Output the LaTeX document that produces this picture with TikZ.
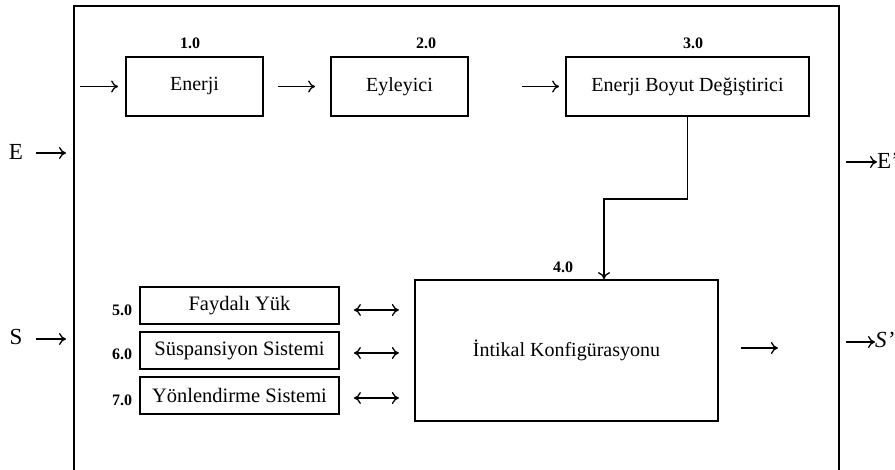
\documentclass[tikz,border=0pt]{standalone}
\usepackage{fontspec}
\setmainfont{Liberation Serif}
\usetikzlibrary{arrows.meta}
\begin{document}
\begin{tikzpicture}[x=1pt,y=-1pt,
  box/.style={draw,line width=1.8pt,inner sep=0pt,font=\fontsize{20}{23}\selectfont},
  sbox/.style={draw,line width=1.8pt,inner sep=0pt,minimum width=199pt,minimum height=37pt,font=\fontsize{20.5}{23}\selectfont},
  num/.style={inner sep=0pt,font=\fontsize{16}{18}\selectfont\bfseries},
  lab/.style={inner sep=0pt,font=\fontsize{23}{26}\selectfont},
  arr/.style={line width=1.3pt,-{To[length=7pt,width=12pt]}},
  darr/.style={line width=1.3pt,{To[length=7pt,width=12pt]}-{To[length=7pt,width=12pt]}}]
\useasboundingbox (0,0) rectangle (895,470);
\fill[white] (0,0) rectangle (895,470);
% outer frame
\node[draw,line width=2pt,inner sep=0pt,minimum width=765pt,minimum height=500pt,anchor=north west] (frame) at (73,5) {};
% top boxes
\node[box,minimum width=137pt,minimum height=59pt] (b1) at (194.5,86.5) {Enerji};
\node[box,minimum width=137pt,minimum height=59pt] (b2) at (399.5,86.5) {Eyleyici};
\node[box,minimum width=243pt,minimum height=59pt] (b3) at (687.5,86.5) {Enerji Boyut Değiştirici};
\node[num] (n1) at (190,43) {1.0};
\node[num] (n2) at (426,43) {2.0};
\node[num] (n3) at (693,43) {3.0};
% main box
\node[box,minimum width=303pt,minimum height=141pt] (b4) at (566.5,350.5) {İntikal Konfigürasyonu};
\node[num] (n4) at (563,267) {4.0};
% small boxes
\node[sbox] (b5) at (239.5,305.5) {Faydalı Yük};
\node[sbox] (b6) at (239.5,350.5) {Süspansiyon Sistemi};
\node[sbox] (b7) at (239.5,395.5) {Yönlendirme Sistemi};
\node[num] (n5) at (122,310) {5.0};
\node[num] (n6) at (122,354) {6.0};
\node[num] (n7) at (122,400) {7.0};
% arrows top row
\draw[arr] ([xshift=-45pt]b1.west) -- ([xshift=-7pt]b1.west);
\draw[arr] ([xshift=14pt]b1.east) -- ([xshift=-15pt]b2.west);
\draw[arr] ([xshift=53pt]b2.east) -- ([xshift=-6pt]b3.west);
% connector 3 -> 4
\coordinate (k) at (604,199);
\draw[arr] (b3.south) |- (k) -- (k |- b4.north);
% output of 4
\draw[arr] ([xshift=22pt,yshift=2.5pt]b4.east) -- ([xshift=59pt,yshift=2.5pt]b4.east);
% double arrows
\draw[darr] ([xshift=14pt,yshift=-4.5pt]b5.east) -- ([xshift=59pt,yshift=-4.5pt]b5.east);
\draw[darr] ([xshift=14pt,yshift=-2.5pt]b6.east) -- ([xshift=59pt,yshift=-2.5pt]b6.east);
\draw[darr] ([xshift=14pt,yshift=-2.5pt]b7.east) -- ([xshift=59pt,yshift=-2.5pt]b7.east);
% external inputs
\node[lab] (E) at (16,152) {E};
\node[lab] (S) at (16,337) {S};
\coordinate (ei) at (36,153);
\coordinate (si) at (36,339);
\draw[arr] (ei) -- ([xshift=-7pt]frame.west |- ei);
\draw[arr] (si) -- ([xshift=-7pt]frame.west |- si);
% external outputs
\node[lab,anchor=west] (E2) at (877,161) {E'};
\node[lab,anchor=west] (S2) at (875,340) {\textit{S'}};
\coordinate (eo) at (846,162);
\coordinate (so) at (846,342);
\draw[arr] (eo) -- (E2.west |- eo);
\draw[arr] (so) -- (S2.west |- so);
\end{tikzpicture}
\end{document}
